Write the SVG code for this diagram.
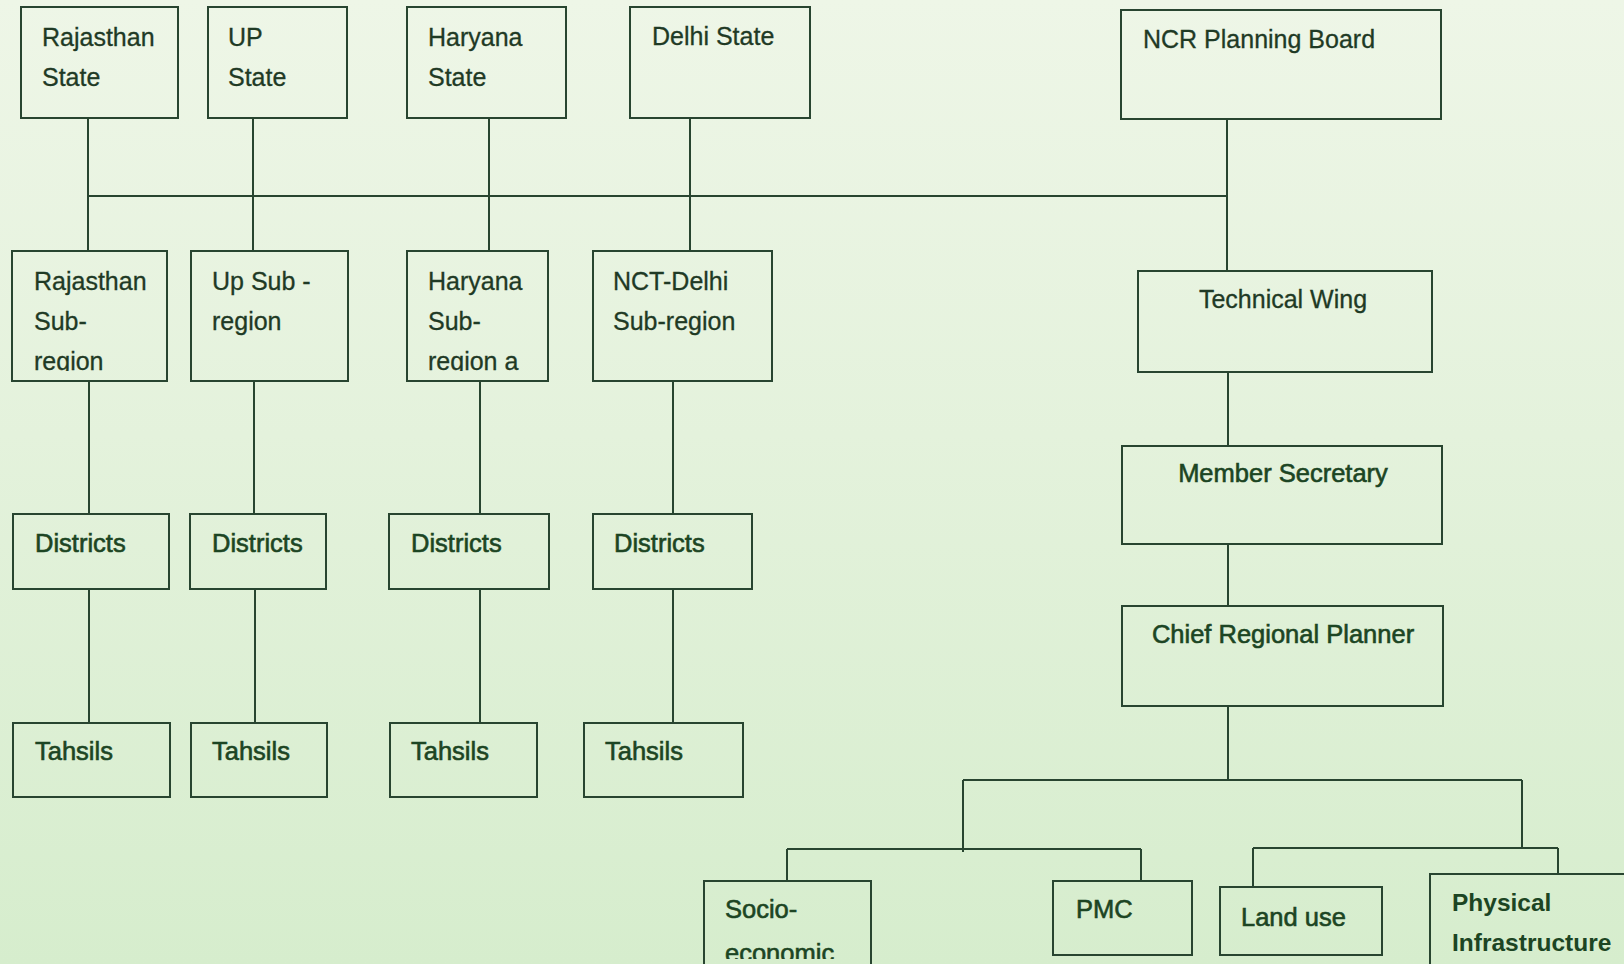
<svg xmlns="http://www.w3.org/2000/svg" width="1624" height="964" viewBox="0 0 1624 964">
<defs>
<linearGradient id="bg" x1="0" y1="0" x2="0" y2="1">
<stop offset="0" stop-color="#eef6e7"/>
<stop offset="0.45" stop-color="#e4f2dc"/>
<stop offset="1" stop-color="#d6edcd"/>
</linearGradient>
<clipPath id="clipRow2"><rect x="0" y="0" width="1624" height="371"/></clipPath>
<clipPath id="clipBottom"><rect x="0" y="0" width="1624" height="959"/></clipPath>
<style>
.box{fill:none;stroke:#284530;stroke-width:2}
.ln{fill:none;stroke:#284530;stroke-width:2}
.t{font-family:"Liberation Sans",Arial,sans-serif;font-size:25px;fill:#1f3a25;stroke:#1f3a25;stroke-width:0.3}
.tl{font-family:"Liberation Sans",Arial,sans-serif;font-size:25.5px;fill:#1c4523;stroke:#1c4523;stroke-width:0.6}
.tb{font-family:"Liberation Sans",Arial,sans-serif;font-size:24.5px;font-weight:bold;fill:#1c4523}
.c{text-anchor:middle}
</style>
</defs>
<rect x="0" y="0" width="1624" height="964" fill="url(#bg)"/>

<g id="connectors">
<path class="ln" d="M88 196 H1227"/>
<path class="ln" d="M88 118 V251"/>
<path class="ln" d="M253 118 V251"/>
<path class="ln" d="M489 118 V251"/>
<path class="ln" d="M690 118 V251"/>
<path class="ln" d="M1227 119 V271"/>
<path class="ln" d="M89 381 V514"/>
<path class="ln" d="M254 381 V514"/>
<path class="ln" d="M480 381 V514"/>
<path class="ln" d="M673 381 V514"/>
<path class="ln" d="M89 589 V723"/>
<path class="ln" d="M255 589 V723"/>
<path class="ln" d="M480 589 V723"/>
<path class="ln" d="M673 589 V723"/>
<path class="ln" d="M1228 372 V446"/>
<path class="ln" d="M1228 544 V606"/>
<path class="ln" d="M1228 706 V780"/>
<path class="ln" d="M963 780 H1522"/>
<path class="ln" d="M963 780 V852"/>
<path class="ln" d="M787 849 H1141"/>
<path class="ln" d="M787 849 V881"/>
<path class="ln" d="M1141 849 V881"/>
<path class="ln" d="M1522 780 V848"/>
<path class="ln" d="M1253 848 H1558"/>
<path class="ln" d="M1253 848 V887"/>
<path class="ln" d="M1558 848 V874"/>
</g>

<g id="rajasthan-state"><rect class="box" x="21" y="7" width="157" height="111"/><text class="t" x="42" y="45.5">Rajasthan</text><text class="t" x="42" y="86">State</text></g>
<g id="up-state"><rect class="box" x="208" y="7" width="139" height="111"/><text class="t" x="228" y="45.5">UP</text><text class="t" x="228" y="86">State</text></g>
<g id="haryana-state"><rect class="box" x="407" y="7" width="159" height="111"/><text class="t" x="428" y="45.5">Haryana</text><text class="t" x="428" y="86">State</text></g>
<g id="delhi-state"><rect class="box" x="630" y="7" width="180" height="111"/><text class="t" x="652" y="45">Delhi State</text></g>
<g id="ncr-planning-board"><rect class="box" x="1121" y="10" width="320" height="109"/><text class="t" x="1143" y="48">NCR Planning Board</text></g>

<g id="rajasthan-subregion"><rect class="box" x="12" y="251" width="155" height="130"/><g clip-path="url(#clipRow2)"><text class="t" x="34" y="290">Rajasthan</text><text class="t" x="34" y="330">Sub-</text><text class="t" x="34" y="370">region</text></g></g>
<g id="up-subregion"><rect class="box" x="191" y="251" width="157" height="130"/><text class="t" x="212" y="290">Up Sub -</text><text class="t" x="212" y="330">region</text></g>
<g id="haryana-subregion"><rect class="box" x="407" y="251" width="141" height="130"/><g clip-path="url(#clipRow2)"><text class="t" x="428" y="290">Haryana</text><text class="t" x="428" y="330">Sub-</text><text class="t" x="428" y="370">region a</text></g></g>
<g id="nct-delhi-subregion"><rect class="box" x="593" y="251" width="179" height="130"/><text class="t" x="613" y="290">NCT-Delhi</text><text class="t" x="613" y="330">Sub-region</text></g>
<g id="technical-wing"><rect class="box" x="1138" y="271" width="294" height="101"/><text class="t c" x="1283" y="308">Technical Wing</text></g>

<g id="districts-1"><rect class="box" x="13" y="514" width="156" height="75"/><text class="tl" x="35" y="552">Districts</text></g>
<g id="districts-2"><rect class="box" x="190" y="514" width="136" height="75"/><text class="tl" x="212" y="552">Districts</text></g>
<g id="districts-3"><rect class="box" x="389" y="514" width="160" height="75"/><text class="tl" x="411" y="552">Districts</text></g>
<g id="districts-4"><rect class="box" x="593" y="514" width="159" height="75"/><text class="tl" x="614" y="552">Districts</text></g>

<g id="tahsils-1"><rect class="box" x="13" y="723" width="157" height="74"/><text class="tl" x="35" y="760">Tahsils</text></g>
<g id="tahsils-2"><rect class="box" x="191" y="723" width="136" height="74"/><text class="tl" x="212" y="760">Tahsils</text></g>
<g id="tahsils-3"><rect class="box" x="390" y="723" width="147" height="74"/><text class="tl" x="411" y="760">Tahsils</text></g>
<g id="tahsils-4"><rect class="box" x="584" y="723" width="159" height="74"/><text class="tl" x="605" y="760">Tahsils</text></g>

<g id="member-secretary"><rect class="box" x="1122" y="446" width="320" height="98"/><text class="tl c" x="1283" y="482">Member Secretary</text></g>
<g id="chief-regional-planner"><rect class="box" x="1122" y="606" width="321" height="100"/><text class="tl c" x="1283" y="643">Chief Regional Planner</text></g>

<g id="socio-economic"><rect class="box" x="704" y="881" width="167" height="100"/><g clip-path="url(#clipBottom)"><text class="tl" x="725" y="918">Socio-</text><text class="tl" x="725" y="962">economic</text></g></g>
<g id="pmc"><rect class="box" x="1053" y="881" width="139" height="74"/><text class="tl" x="1076" y="918">PMC</text></g>
<g id="land-use"><rect class="box" x="1220" y="887" width="162" height="68"/><text class="tl" x="1241" y="926">Land use</text></g>
<g id="physical-infrastructure"><rect class="box" x="1430" y="874" width="210" height="110"/><text class="tb" x="1452" y="911">Physical</text><text class="tb" x="1452" y="951">Infrastructure</text></g>
</svg>
